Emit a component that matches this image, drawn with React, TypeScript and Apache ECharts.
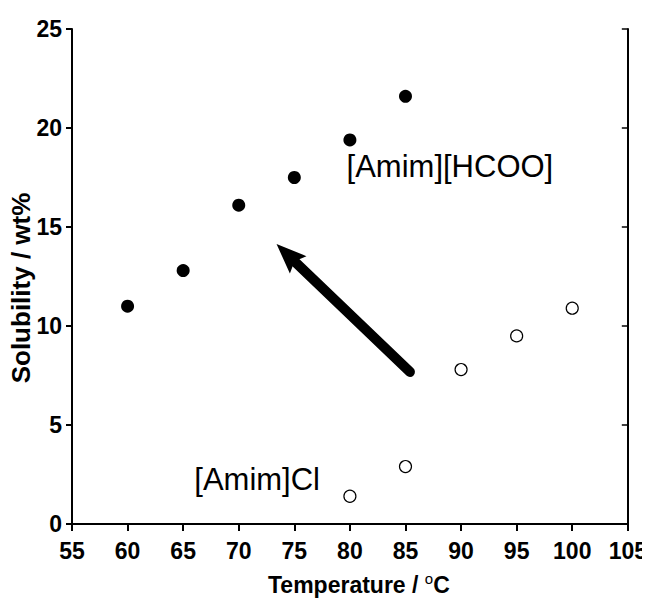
import React, { useEffect, useRef } from "react";
import * as echarts from "echarts";

const hcooTemps = [60, 65, 70, 75, 80, 85];
const hcooSolubility = [11.0, 12.8, 16.1, 17.5, 19.4, 21.6];
const clTemps = [80, 85, 90, 95, 100];
const clSolubility = [1.4, 2.9, 7.8, 9.5, 10.9];
const arrowStart = [85.4, 7.68];
const arrowTip = [73.4, 14.14];
const labelHcoo = { text: "[Amim][HCOO]", x: 79.7, y: 18.05 };
const labelCl = { text: "[Amim]Cl", x: 66.0, y: 2.27 };
const xTitle = "Temperature / {sup|o}C";
const yTitle = "Solubility / wt%";

const FONT = "'Liberation Sans', Arial, Helvetica, sans-serif";

export default function App() {
  const ref = useRef<HTMLDivElement>(null);
  useEffect(() => {
    if (!ref.current) return;
    const chart = echarts.init(ref.current, null, { renderer: "svg" });
    const axisBase = {
      min: 55,
      max: 105,
      interval: 5,
      splitLine: { show: false },
      axisLine: { show: true, lineStyle: { color: "#000", width: 2 } },
    };
    const yBase = {
      min: 0,
      max: 25,
      interval: 5,
      splitLine: { show: false },
      axisLine: { show: true, lineStyle: { color: "#000", width: 2 } },
    };
    chart.setOption({
      animation: false,
      backgroundColor: "#fff",
      grid: { left: 72, top: 29, right: 19, bottom: 82, containLabel: false },
      xAxis: [
        {
          ...axisBase,
          type: "value",
          position: "bottom",
          axisTick: { show: true, inside: false, length: 7, lineStyle: { color: "#000", width: 2 } },
          axisLabel: {
            show: true,
            color: "#000",
            fontFamily: FONT,
            fontWeight: "bold",
            fontSize: 23,
            margin: 15,
          },
        },
        {
          ...axisBase,
          type: "value",
          position: "top",
          axisTick: { show: true, inside: true, length: 6, lineStyle: { color: "#000", width: 1.5 } },
          axisLabel: { show: false },
        },
      ],
      yAxis: [
        {
          ...yBase,
          type: "value",
          position: "left",
          axisTick: { show: true, inside: false, length: 6, lineStyle: { color: "#000", width: 2 } },
          axisLabel: {
            show: true,
            color: "#000",
            fontFamily: FONT,
            fontWeight: "bold",
            fontSize: 23,
            margin: 10,
          },
        },
        {
          ...yBase,
          type: "value",
          position: "right",
          axisTick: { show: true, inside: true, length: 6, lineStyle: { color: "#000", width: 1.5 } },
          axisLabel: { show: false },
        },
      ],
      series: [
        {
          type: "scatter",
          name: "[Amim][HCOO]",
          data: hcooTemps.map((t, i) => [t, hcooSolubility[i]]),
          symbol: "circle",
          symbolSize: 13,
          itemStyle: { color: "#000", borderColor: "#000", borderWidth: 0, opacity: 1 },
        },
        {
          type: "scatter",
          name: "[Amim]Cl",
          data: clTemps.map((t, i) => [t, clSolubility[i]]),
          symbol: "circle",
          symbolSize: 12,
          itemStyle: { color: "#fff", borderColor: "#000", borderWidth: 1.2, opacity: 1 },
        },
      ],
    });

    const p0 = chart.convertToPixel({ gridIndex: 0 }, arrowStart) as number[];
    const p1 = chart.convertToPixel({ gridIndex: 0 }, arrowTip) as number[];
    const dx = p1[0] - p0[0];
    const dy = p1[1] - p0[1];
    const len = Math.sqrt(dx * dx + dy * dy);
    const ux = dx / len;
    const uy = dy / len;
    const headLen = 30;
    const headHalf = 12;
    const bx = p1[0] - ux * headLen;
    const by = p1[1] - uy * headLen;
    const nx = -uy;
    const ny = ux;
    const lh = chart.convertToPixel({ gridIndex: 0 }, [labelHcoo.x, labelHcoo.y]) as number[];
    const lc = chart.convertToPixel({ gridIndex: 0 }, [labelCl.x, labelCl.y]) as number[];

    chart.setOption({
      graphic: [
        {
          type: "line",
          shape: { x1: p0[0], y1: p0[1], x2: bx + ux * 4, y2: by + uy * 4 },
          style: { stroke: "#000", lineWidth: 10, lineCap: "round" },
          z: 10,
        },
        {
          type: "polygon",
          shape: {
            points: [
              [p1[0], p1[1]],
              [bx + nx * headHalf, by + ny * headHalf],
              [bx + ux * 5, by + uy * 5],
              [bx - nx * headHalf, by - ny * headHalf],
            ],
          },
          style: { fill: "#000" },
          z: 10,
        },
        {
          type: "text",
          x: lh[0],
          y: lh[1],
          style: {
            text: labelHcoo.text,
            fill: "#000",
            font: `31px ${FONT}`,
            textAlign: "left",
            textVerticalAlign: "middle",
          },
          z: 10,
        },
        {
          type: "text",
          x: lc[0],
          y: lc[1],
          style: {
            text: labelCl.text,
            fill: "#000",
            font: `31px ${FONT}`,
            textAlign: "left",
            textVerticalAlign: "middle",
          },
          z: 10,
        },
        {
          type: "text",
          x: 268,
          y: 571,
          style: {
            text: xTitle,
            fill: "#000",
            font: `bold 23px ${FONT}`,
            textAlign: "left",
            textVerticalAlign: "top",
            rich: {
              sup: {
                fill: "#000",
                font: `15px ${FONT}`,
                verticalAlign: "top",
                padding: [0, 0, 12, 0],
              },
            },
          },
          z: 10,
        },
        {
          type: "text",
          x: 21,
          y: 288,
          rotation: Math.PI / 2,
          style: {
            text: yTitle,
            fill: "#000",
            font: `bold 26px ${FONT}`,
            textAlign: "center",
            textVerticalAlign: "middle",
          },
          z: 10,
        },
      ],
    });

    return () => chart.dispose();
  }, []);
  return <div ref={ref} style={{ width: 650, height: 606, margin: -8 }} />;
}
